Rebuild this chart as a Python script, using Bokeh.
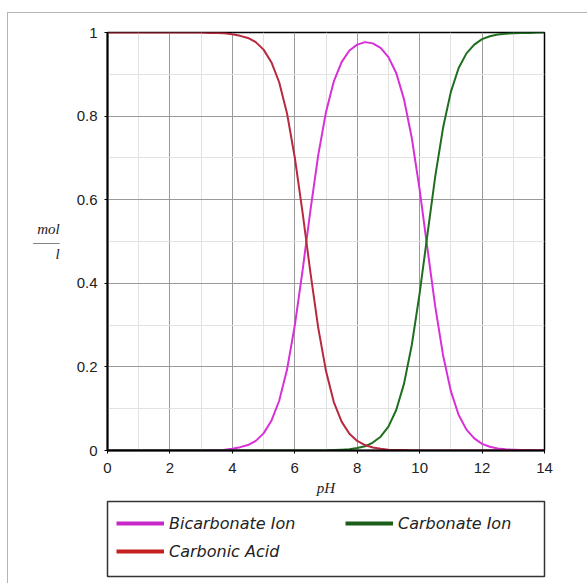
from bokeh.plotting import figure
from bokeh.layouts import column
from bokeh.models import FixedTicker, Legend, LegendItem, Range1d
from bokeh.embed import file_html
from bokeh.resources import INLINE

# ---- data ----
ph = [0, 0.25, 0.5, 0.75, 1, 1.25, 1.5, 1.75, 2, 2.25, 2.5, 2.75, 3, 3.25, 3.5, 3.75,
      4, 4.25, 4.5, 4.75, 5, 5.25, 5.5, 5.75, 6, 6.25, 6.5, 6.75, 7, 7.25, 7.5, 7.75,
      8, 8.25, 8.5, 8.75, 9, 9.25, 9.5, 9.75, 10, 10.25, 10.5, 10.75, 11, 11.25, 11.5,
      11.75, 12, 12.25, 12.5, 12.75, 13, 13.25, 13.5, 13.75, 14]

carbonic_acid = [1.000, 1.000, 1.000, 1.000, 1.000, 1.000, 1.000, 1.000, 1.000, 1.000,
                 1.000, 1.000, 1.000, 0.999, 0.999, 0.998, 0.996, 0.992, 0.987, 0.977,
                 0.959, 0.929, 0.881, 0.807, 0.701, 0.569, 0.426, 0.294, 0.190, 0.116,
                 0.069, 0.040, 0.023, 0.013, 0.007, 0.004, 0.002, 0.001, 0.001, 0.000,
                 0.000, 0.000, 0.000, 0.000, 0.000, 0.000, 0.000, 0.000, 0.000, 0.000,
                 0.000, 0.000, 0.000, 0.000, 0.000, 0.000, 0.000]

bicarbonate = [0.000, 0.000, 0.000, 0.000, 0.000, 0.000, 0.000, 0.000, 0.000, 0.000,
               0.000, 0.000, 0.000, 0.001, 0.001, 0.002, 0.004, 0.008, 0.013, 0.023,
               0.041, 0.071, 0.119, 0.193, 0.299, 0.431, 0.574, 0.706, 0.810, 0.883,
               0.929, 0.957, 0.971, 0.977, 0.974, 0.963, 0.941, 0.903, 0.840, 0.747,
               0.624, 0.483, 0.344, 0.228, 0.142, 0.085, 0.050, 0.029, 0.016, 0.009,
               0.005, 0.003, 0.002, 0.001, 0.001, 0.000, 0.000]

carbonate = [0.000, 0.000, 0.000, 0.000, 0.000, 0.000, 0.000, 0.000, 0.000, 0.000,
             0.000, 0.000, 0.000, 0.000, 0.000, 0.000, 0.000, 0.000, 0.000, 0.000,
             0.000, 0.000, 0.000, 0.000, 0.000, 0.000, 0.000, 0.000, 0.000, 0.001,
             0.002, 0.003, 0.006, 0.010, 0.019, 0.033, 0.057, 0.097, 0.160, 0.253,
             0.376, 0.517, 0.656, 0.772, 0.858, 0.915, 0.950, 0.971, 0.984, 0.991,
             0.995, 0.997, 0.998, 0.999, 0.999, 1.000, 1.000]

series_names = ["Bicarbonate Ion", "Carbonate Ion", "Carbonic Acid"]
x_ticks = [0, 2, 4, 6, 8, 10, 12, 14]
x_minor = [1, 3, 5, 7, 9, 11, 13]
y_ticks = [0, 0.2, 0.4, 0.6, 0.8, 1]
y_minor = [0.1, 0.3, 0.5, 0.7, 0.9]
y_tick_labels = ["0", "0.2", "0.4", "0.6", "0.8", "1"]
x_title = "pH"
y_title = "mol\n\u2014\u2014\nl"

C_MAG = "#D830D8"
C_GRN = "#1F6E1F"
C_RED = "#B8283F"
C_MAG_LEG = "#C828C8"
C_GRN_LEG = "#1A5E1A"
C_RED_LEG = "#C42020"

# ---------------- main chart ----------------
p = figure(width=587, height=500, output_backend="svg", toolbar_location=None,
           x_range=Range1d(0, 14), y_range=Range1d(0, 1),
           min_border_left=107, min_border_right=34, min_border_top=32, min_border_bottom=50)
p.background_fill_color = "white"
p.border_fill_alpha = 0
p.outline_line_color = "black"
p.outline_line_width = 1.5

p.line(ph, bicarbonate, line_color=C_MAG, line_width=2)
p.line(ph, carbonate, line_color=C_GRN, line_width=2)
p.line(ph, carbonic_acid, line_color=C_RED, line_width=2)

p.xaxis.ticker = FixedTicker(ticks=x_ticks, minor_ticks=x_minor)
p.yaxis.ticker = FixedTicker(ticks=y_ticks, minor_ticks=y_minor)
p.yaxis.major_label_overrides = {t: l for t, l in zip(y_ticks, y_tick_labels)}
for ax in (p.xaxis[0], p.yaxis[0]):
    ax.axis_line_color = "black"
    ax.axis_line_width = 2
    ax.major_tick_line_color = "black"
    ax.major_tick_in = 0
    ax.major_tick_out = 3
    ax.minor_tick_in = 0
    ax.minor_tick_out = 0
    ax.major_label_text_font = "Liberation Sans"
    ax.major_label_text_font_size = "15px"
    ax.major_label_text_color = "#222222"
    ax.axis_label_text_font = "Liberation Serif"
    ax.axis_label_text_font_style = "italic"
    ax.axis_label_text_font_size = "15px"
    ax.axis_label_text_color = "#222222"
p.xaxis.major_label_standoff = 9
p.yaxis.major_label_standoff = 7
p.xaxis.axis_label = x_title
p.xaxis.axis_label_standoff = 4
p.yaxis.axis_label = y_title
p.yaxis.axis_label_orientation = "horizontal"
p.yaxis.axis_label_text_line_height = 0.8
p.yaxis.axis_label_standoff = 14

for g in (p.xgrid[0], p.ygrid[0]):
    g.grid_line_color = "#9a9a9a"
    g.grid_line_width = 1
    g.minor_grid_line_color = "#e2e2e2"
    g.minor_grid_line_width = 1

# ---------------- legend strip (its frame is the legend box) ----------------
q = figure(width=587, height=83, output_backend="svg", toolbar_location=None,
           x_range=Range1d(0, 14), y_range=Range1d(0, 1),
           x_axis_type=None, y_axis_type=None,
           min_border_left=87, min_border_right=43, min_border_top=1, min_border_bottom=7)
q.background_fill_color = "white"
q.border_fill_alpha = 0
q.outline_line_color = "#333333"
q.outline_line_width = 1.5

l_b = q.line(ph, bicarbonate, line_color=C_MAG_LEG, line_width=4, visible=False)
l_g = q.line(ph, carbonate, line_color=C_GRN_LEG, line_width=4, visible=False)
l_r = q.line(ph, carbonic_acid, line_color=C_RED_LEG, line_width=4, visible=False)

leg_kw = dict(padding=0, margin=0, spacing=8, glyph_width=48, glyph_height=20,
              label_height=20, label_standoff=5, border_line_color=None,
              background_fill_alpha=0, inactive_fill_alpha=0,
              label_text_font="DejaVu Sans", label_text_font_style="italic",
              label_text_font_size="16px", label_text_color="#222222")
leg1 = Legend(items=[LegendItem(label=series_names[0], renderers=[l_b]),
                     LegendItem(label=series_names[2], renderers=[l_r])],
              location=(9, 15), orientation="vertical", **leg_kw)
leg2 = Legend(items=[LegendItem(label=series_names[1], renderers=[l_g])],
              location=(238, 43), orientation="vertical", **leg_kw)
q.add_layout(leg1)
q.add_layout(leg2)

root = column(p, q, spacing=0, styles={
    "background": ("linear-gradient(#b4b4b4,#b4b4b4) 7px 12px / 1px 100% no-repeat, "
                   "linear-gradient(#b4b4b4,#b4b4b4) 7px 12px / 100% 1px no-repeat, white"),
})

open("out.html", "w").write(file_html(root, INLINE))
